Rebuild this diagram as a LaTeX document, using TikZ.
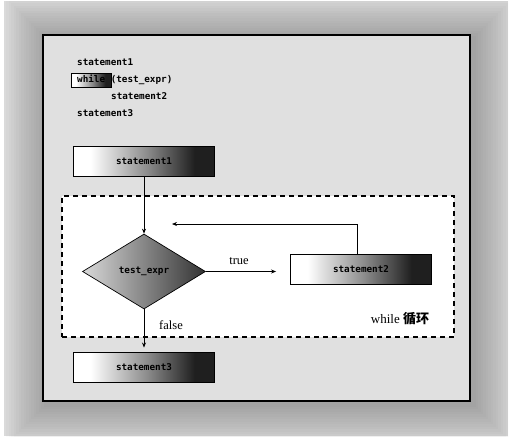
\documentclass[tikz,border=0pt]{standalone}
\usepackage{fontspec}
\setmainfont{Liberation Serif}
\newfontfamily\codefont{DejaVu Sans Mono}
\newfontfamily\cjkfont{Noto Sans CJK SC}
\usetikzlibrary{shapes.geometric,arrows.meta}
\pgfdeclarehorizontalshading{boxshade}{100bp}{color(0bp)=(white); color(25bp)=(white); color(31bp)=(white); color(51bp)=(black!45); color(68bp)=(black!88); color(75bp)=(black!88); color(100bp)=(black!88)}
\definecolor{outergray}{HTML}{DADADA}
\definecolor{panelgray}{HTML}{E0E0E0}
\tikzset{
  x=1pt, y=1pt,
  codetext/.style={font=\codefont\bfseries\fontsize{9.3}{11}\selectfont, inner sep=0pt, anchor=west},
  stmtbox/.style={draw=black, line width=0.9pt, shading=boxshade, minimum width=141pt, minimum height=30pt, inner sep=0pt, font=\codefont\bfseries\fontsize{9.3}{11}\selectfont},
  decision/.style={diamond, draw=black, line width=0.7pt, left color=black!15, right color=black!80, minimum width=123pt, minimum height=75pt, aspect=1.64, inner sep=0pt, font=\codefont\bfseries\fontsize{9.3}{11}\selectfont},
  flow/.style={line width=0.7pt, -{Stealth[length=5pt,width=4pt]}},
  lbl/.style={font=\fontsize{12.5}{14}\selectfont, inner sep=0pt},
}
\begin{document}
\begin{tikzpicture}
\useasboundingbox (0,0) rectangle (512,-439);
\fill[white] (0,0) rectangle (512,-439);
\fill[outergray] (4,-1) rectangle (508,-436);
\begin{scope}
\clip (4,-1) rectangle (508,-436);
\foreach \i in {1,...,16}{
  \fill[black, opacity=0.014] ({43+3-2.5*\i},{-35-3+2.5*\i}) rectangle ({470+3+2.5*\i},{-401-3-2.5*\i});
}
\end{scope}
% panel
\node[draw=black, line width=1.2pt, fill=panelgray, minimum width=427pt, minimum height=366pt, inner sep=0pt] (panel) at (256.5,-218) {};
% code
\node[codetext] (c1) at (77,-62) {statement1};
\fill[shading=boxshade, draw=black, line width=0.9pt] (71,-73) rectangle (111,-87);
\node[codetext] (c2) at (77,-80) {while (test\_expr)};
\node[codetext] (c3) at (111,-96) {statement2};
\node[codetext] (c4) at (77,-113) {statement3};
% dashed loop region
\node[draw=black, dash pattern=on 5pt off 4pt, line width=1.2pt, fill=white, minimum width=392pt, minimum height=141pt, inner sep=0pt] (loop) at (258,-266.5) {};
% flow
\node[stmtbox] (s1) at (144,-161) {statement1};
\node[decision] (d) at (144,-271.5) {test\_expr};
\node[stmtbox] (s2) at (361,-269) {statement2};
\node[stmtbox] (s3) at (144,-367) {statement3};
\coordinate (loopend) at (172,-224);
\draw[flow] (s1.south) -- (d.north);
\draw[flow, shorten >=14pt] (d.east) -- (d.east -| s2.west);
\draw[flow] ([xshift=-4pt]s2.north) |- (loopend);
\draw[flow, shorten >=4pt] (d.south) -- (s3.north);
\node[lbl] (t) at (239,-261) {true};
\node[lbl] (f) at (171,-325) {false};
\node[lbl, font=\fontsize{13}{15}\selectfont] (w) at (400,-319) {while {\cjkfont\bfseries 循环}};
\end{tikzpicture}
\end{document}
